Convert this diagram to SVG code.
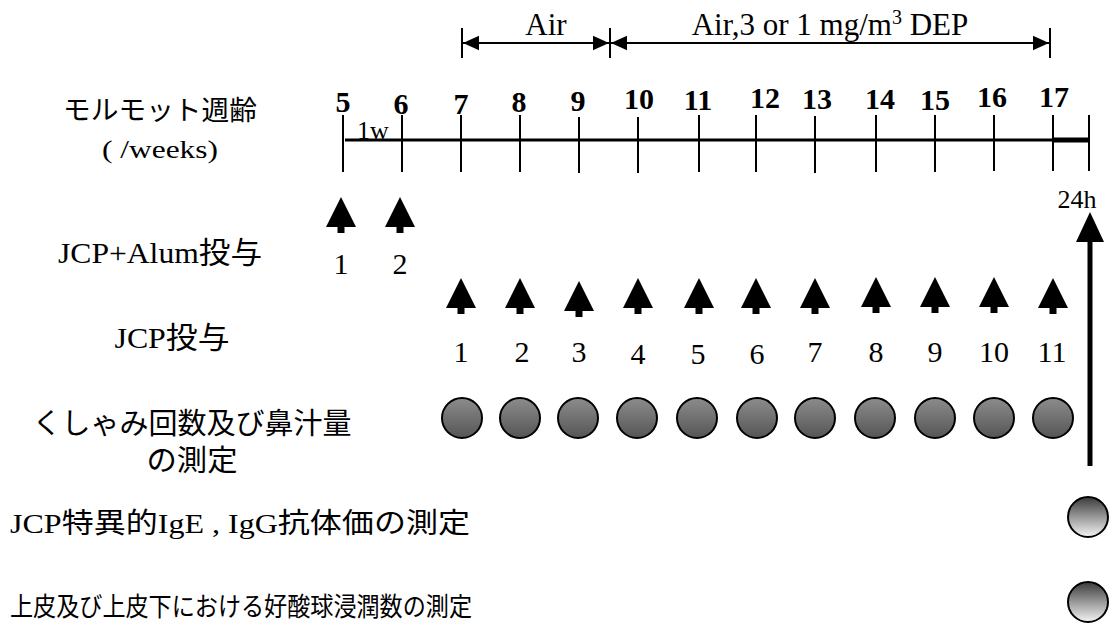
<svg xmlns="http://www.w3.org/2000/svg" width="1114" height="628" viewBox="0 0 1114 628">
<style>
.ser{font-family:"Liberation Serif","Noto Sans CJK JP",serif;fill:#000}
.san{font-family:"Noto Sans CJK JP","Noto Sans",sans-serif;fill:#000}
.wk{font-family:"Liberation Serif",serif;font-weight:bold;font-size:30px;text-anchor:middle}
.num{font-family:"Liberation Serif",serif;font-size:30px;text-anchor:middle}
.tk{stroke:#000;stroke-width:2}
.c1{fill:url(#g1);stroke:#000;stroke-width:2}
.c2{fill:url(#g2);stroke:#000;stroke-width:2}
</style>
<defs>
<linearGradient id="g1" x1="0" y1="0" x2="0" y2="1"><stop offset="0" stop-color="#8c8c8c"/><stop offset="1" stop-color="#555"/></linearGradient>
<linearGradient id="g2" x1="0" y1="0" x2="0" y2="1"><stop offset="0" stop-color="#3a3a3a"/><stop offset="0.5" stop-color="#999"/><stop offset="1" stop-color="#f4f4f4"/></linearGradient>
<path id="ar" d="M0,-30 L15,0 L3.5,0 L3.5,6 L-3.5,6 L-3.5,0 L-15,0 Z" fill="#000"/>
<marker id="ah" viewBox="0 0 10 10" refX="10" refY="5" markerUnits="userSpaceOnUse" markerWidth="18" markerHeight="16" orient="auto-start-reverse"><path d="M0,0.5 L10,5 L0,9.5 z" fill="#000"/></marker>
</defs>

<g id="period-air">
<line class="tk" x1="462" y1="28" x2="462" y2="58"/>
<line x1="463" y1="43" x2="609" y2="43" stroke="#000" stroke-width="2" marker-start="url(#ah)" marker-end="url(#ah)"/>
<text class="ser" x="546" y="35" font-size="31" text-anchor="middle">Air</text>
</g>
<g id="period-dep">
<line class="tk" x1="610" y1="28" x2="610" y2="58"/>
<line class="tk" x1="1050" y1="28" x2="1050" y2="58"/>
<line x1="611" y1="43" x2="1049" y2="43" stroke="#000" stroke-width="2" marker-start="url(#ah)" marker-end="url(#ah)"/>
<text class="ser" x="830" y="35" font-size="31" text-anchor="middle">Air,3 or 1 mg/m<tspan dy="-11" font-size="20">3</tspan><tspan dy="11"> DEP</tspan></text>
</g>

<g id="labels">
<text class="san" x="160" y="120" font-size="27" text-anchor="middle" textLength="194" lengthAdjust="spacingAndGlyphs">モルモット週齢</text>
<text class="ser" x="160" y="158" font-size="25" text-anchor="middle" textLength="116" lengthAdjust="spacingAndGlyphs">( /weeks)</text>
<text class="ser" x="160" y="263" font-size="30" text-anchor="middle" textLength="204" lengthAdjust="spacingAndGlyphs">JCP+Alum投与</text>
<text class="ser" x="172" y="348" font-size="30" text-anchor="middle" textLength="115" lengthAdjust="spacingAndGlyphs">JCP投与</text>
<text class="san" x="192" y="434" font-size="29" text-anchor="middle" textLength="319" lengthAdjust="spacingAndGlyphs">くしゃみ回数及び鼻汁量</text>
<text class="san" x="192" y="471" font-size="29" text-anchor="middle" textLength="91" lengthAdjust="spacingAndGlyphs">の測定</text>
<text class="ser" x="10" y="533" font-size="28" textLength="460" lengthAdjust="spacingAndGlyphs">JCP特異的IgE , IgG抗体価の測定</text>
<text class="san" x="10" y="616" font-size="26" textLength="462" lengthAdjust="spacingAndGlyphs">上皮及び上皮下における好酸球浸潤数の測定</text>
</g>

<g id="timeline">
<line x1="345" y1="140" x2="1053" y2="140" stroke="#000" stroke-width="3"/>
<line x1="1053" y1="140" x2="1089" y2="140" stroke="#000" stroke-width="5"/>
<line class="tk" x1="343" y1="115" x2="343" y2="172"/>
<line class="tk" x1="402" y1="115" x2="402" y2="172"/>
<line class="tk" x1="461" y1="115" x2="461" y2="172"/>
<line class="tk" x1="520" y1="115" x2="520" y2="172"/>
<line class="tk" x1="579" y1="117" x2="579" y2="173"/>
<line class="tk" x1="638" y1="117" x2="638" y2="173"/>
<line class="tk" x1="699" y1="115" x2="699" y2="172"/>
<line class="tk" x1="756" y1="115" x2="756" y2="172"/>
<line class="tk" x1="815" y1="116" x2="815" y2="173"/>
<line class="tk" x1="876" y1="115" x2="876" y2="172"/>
<line class="tk" x1="935" y1="115" x2="935" y2="172"/>
<line class="tk" x1="994" y1="115" x2="994" y2="171"/>
<line class="tk" x1="1053" y1="115" x2="1053" y2="171"/>
<line class="tk" x1="1089" y1="115" x2="1089" y2="171"/>
<text class="wk" x="343" y="112">5</text>
<text class="wk" x="401" y="114">6</text>
<text class="wk" x="461" y="114">7</text>
<text class="wk" x="519" y="112">8</text>
<text class="wk" x="578" y="111">9</text>
<text class="wk" x="639" y="109">10</text>
<text class="wk" x="698" y="110">11</text>
<text class="wk" x="765" y="108">12</text>
<text class="wk" x="817" y="109">13</text>
<text class="wk" x="880" y="109">14</text>
<text class="wk" x="935" y="110">15</text>
<text class="wk" x="992" y="107">16</text>
<text class="wk" x="1054" y="107">17</text>
<text class="ser" x="373" y="139" font-size="26" text-anchor="middle">1w</text>
</g>

<g id="alum-doses">
<use href="#ar" x="341" y="227"/>
<use href="#ar" x="400" y="227"/>
<text class="num" x="341" y="274">1</text>
<text class="num" x="400" y="274">2</text>
</g>

<g id="jcp-doses">
<use href="#ar" x="461" y="308"/>
<use href="#ar" x="520" y="308"/>
<use href="#ar" x="579" y="311"/>
<use href="#ar" x="638" y="308"/>
<use href="#ar" x="699" y="308"/>
<use href="#ar" x="756" y="308"/>
<use href="#ar" x="815" y="308"/>
<use href="#ar" x="876" y="307"/>
<use href="#ar" x="935" y="307"/>
<use href="#ar" x="994" y="307"/>
<use href="#ar" x="1053" y="308"/>
<text class="num" x="461" y="362">1</text>
<text class="num" x="522" y="362">2</text>
<text class="num" x="579" y="362">3</text>
<text class="num" x="638" y="364">4</text>
<text class="num" x="698" y="364">5</text>
<text class="num" x="757" y="364">6</text>
<text class="num" x="815" y="362">7</text>
<text class="num" x="876" y="362">8</text>
<text class="num" x="935" y="362">9</text>
<text class="num" x="994" y="362">10</text>
<text class="num" x="1052" y="362">11</text>
</g>

<g id="sneeze-measurements">
<circle class="c1" cx="462" cy="418" r="20"/>
<circle class="c1" cx="520" cy="418" r="20"/>
<circle class="c1" cx="578" cy="418" r="20"/>
<circle class="c1" cx="637" cy="418" r="20"/>
<circle class="c1" cx="697" cy="418" r="20"/>
<circle class="c1" cx="757" cy="418" r="20"/>
<circle class="c1" cx="815" cy="418" r="20"/>
<circle class="c1" cx="875" cy="418" r="20"/>
<circle class="c1" cx="935" cy="418" r="20"/>
<circle class="c1" cx="994" cy="418" r="20"/>
<circle class="c1" cx="1053" cy="418" r="20"/>
</g>

<g id="final-24h">
<text class="ser" x="1077" y="208" font-size="26" text-anchor="middle">24h</text>
<line x1="1090" y1="240" x2="1090" y2="466" stroke="#000" stroke-width="5"/>
<polygon points="1090,212 1104,242 1076,242" fill="#000"/>
</g>

<g id="final-measurements">
<circle class="c2" cx="1088" cy="517" r="20"/>
<circle class="c2" cx="1088" cy="602" r="20"/>
</g>
</svg>
